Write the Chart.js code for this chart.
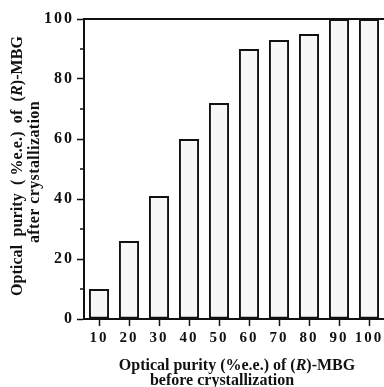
<!DOCTYPE html>
<html>
<head>
<meta charset="utf-8">
<script src="https://cdn.jsdelivr.net/npm/chart.js@4"></script>
<style>
  html, body { margin: 0; padding: 0; background: #fff; }
  #wrap { width: 384px; height: 387px; }
</style>
</head>
<body>
<div id="wrap"><canvas id="chart" width="384" height="387"></canvas></div>
<script>
const categories = ['10', '20', '30', '40', '50', '60', '70', '80', '90', '100'];
const purityAfter = [10, 26, 41, 60, 72, 90, 93, 95, 100, 100];
const yTicks = [0, 20, 40, 60, 80, 100];

const FONT = '"Liberation Serif", "DejaVu Serif", serif';

// draw one line of text made of plain / italic pieces, centred on (0,0)
function mixedLine(ctx, parts, size, spacing) {
  ctx.letterSpacing = spacing + 'px';
  let widths = parts.map(p => {
    ctx.font = `${p.i ? 'italic ' : ''}bold ${size}px ${FONT}`;
    return ctx.measureText(p.t).width;
  });
  let total = widths.reduce((a, b) => a + b, 0);
  let x = -total / 2;
  parts.forEach((p, k) => {
    ctx.font = `${p.i ? 'italic ' : ''}bold ${size}px ${FONT}`;
    ctx.fillText(p.t, x, 0);
    x += widths[k];
  });
}

const frame = {
  id: 'frame',
  beforeDraw(chart) {
    chart.ctx.letterSpacing = '2px';
  },
  afterDraw(chart) {
    const { ctx, chartArea: a, scales } = chart;
    ctx.save();
    ctx.strokeStyle = '#111';
    ctx.lineWidth = 2;
    // top line of the frame
    ctx.beginPath();
    ctx.moveTo(a.left - 1, a.top);
    ctx.lineTo(a.right, a.top);
    ctx.stroke();
    // minor ticks on the y axis
    ctx.lineWidth = 1.5;
    [10, 30, 50, 70, 90].forEach(v => {
      const y = scales.y.getPixelForValue(v);
      ctx.beginPath();
      ctx.moveTo(a.left - 4, y);
      ctx.lineTo(a.left, y);
      ctx.stroke();
    });

    ctx.fillStyle = '#111';
    ctx.textBaseline = 'middle';
    const title1 = [{ t: 'Optical purity (%e.e.) of (' }, { t: 'R', i: true }, { t: ')-MBG' }];

    // x title
    ctx.save();
    ctx.translate(237, 366);
    mixedLine(ctx, title1, 16, 0);
    ctx.restore();
    ctx.save();
    ctx.translate(222, 381);
    mixedLine(ctx, [{ t: 'before crystallization' }], 16, 0);
    ctx.restore();

    // y title
    ctx.save();
    ctx.translate(18, 166);
    ctx.rotate(-Math.PI / 2);
    mixedLine(ctx, [{ t: 'Optical  purity  ( %e.e.)  of  (' }, { t: 'R', i: true }, { t: ')-MBG' }], 16, 0.1);
    ctx.restore();
    ctx.save();
    ctx.translate(35, 172);
    ctx.rotate(-Math.PI / 2);
    mixedLine(ctx, [{ t: 'after crystallization' }], 16, 0.4);
    ctx.restore();
    ctx.restore();
  }
};

new Chart(document.getElementById('chart'), {
  type: 'bar',
  data: {
    labels: categories,
    datasets: [{
      data: purityAfter,
      backgroundColor: '#f7f7f7',
      borderColor: '#111',
      borderWidth: 2,
      borderSkipped: false,
      categoryPercentage: 1,
      barPercentage: 0.67
    }]
  },
  options: {
    responsive: false,
    animation: false,
    layout: { padding: { top: 19, right: 0, left: 0, bottom: 0 } },
    plugins: { legend: { display: false }, tooltip: { enabled: false } },
    scales: {
      x: {
        offset: true,
        grid: { drawOnChartArea: false, drawTicks: true, tickLength: 7, tickWidth: 1.5, tickColor: '#111', offset: false },
        border: { color: '#111', width: 2 },
        ticks: { color: '#111', font: { family: FONT, size: 15, weight: 'bold' }, padding: 3, maxRotation: 0, autoSkip: false },
        afterFit(scale) { scale.height = 68; }
      },
      y: {
        min: 0,
        max: 100,
        afterBuildTicks(scale) { scale.ticks = yTicks.map(v => ({ value: v })); },
        grid: { drawOnChartArea: false, drawTicks: true, tickLength: 7, tickWidth: 1.5, tickColor: '#111' },
        border: { color: '#111', width: 2 },
        ticks: { color: '#111', font: { family: FONT, size: 16, weight: 'bold' }, padding: 3 },
        afterFit(scale) { scale.width = 84; }
      }
    }
  },
  plugins: [frame]
});
</script>
</body>
</html>
